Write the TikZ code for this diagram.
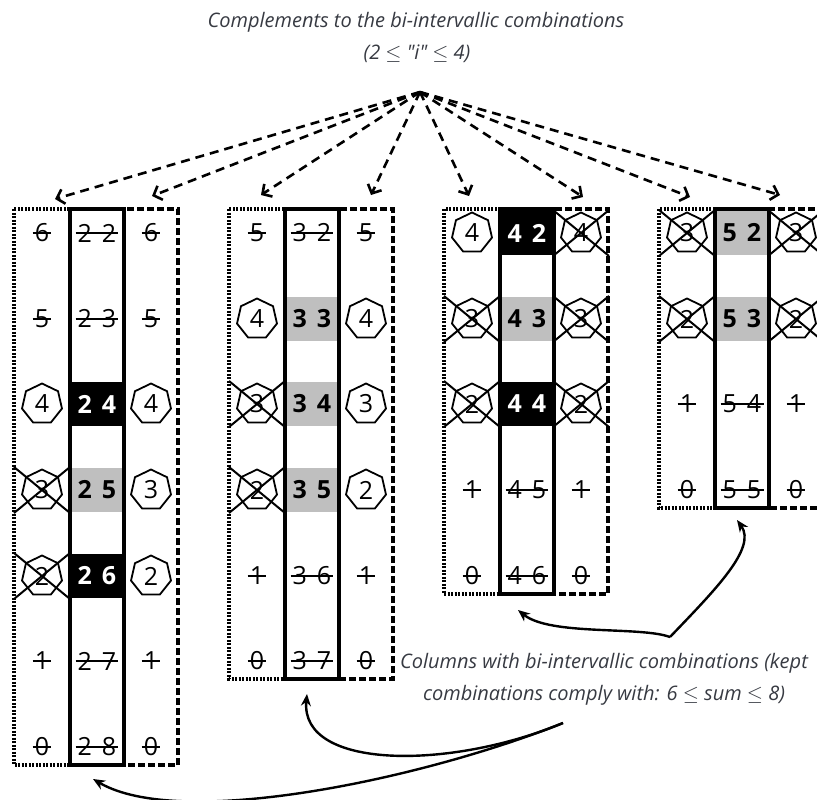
\documentclass[tikz,border=0pt]{standalone}
\usepackage{fontspec}
\setmainfont{Open Sans}
\usetikzlibrary{shapes.geometric,shapes.misc,arrows.meta}
\definecolor{ink}{RGB}{55,58,66}
\definecolor{shade}{RGB}{191,191,191}
\tikzset{
    every node/.style={inner sep=0pt, font=\fontsize{25}{25}\selectfont}
}
\tikzset{gone/.style={inner xsep=2pt, append after command={(\tikzlastnode.west) edge[line width=1.2pt] (\tikzlastnode.east)}}}
\tikzset{hept/.style={regular polygon, regular polygon sides=7, draw, line width=1.8pt, minimum size=41pt}}
\tikzset{cut/.style={cross out, draw, line width=2pt, minimum width=54pt, minimum height=44pt}}
\tikzset{blk/.style={fill=black, text=white, font=\fontsize{25}{25}\selectfont\bfseries, minimum width=54pt, minimum height=44pt}}
\tikzset{gry/.style={blk, fill=shade, text=black}}
\tikzset{note/.style={font=\fontsize{20}{32}\selectfont\itshape, text=ink, align=center}}
\tikzset{guide/.style={dash pattern=on 9pt off 6pt, line width=2.6pt, -{Straight Barb[length=7pt, width=15pt]}}}
\tikzset{link/.style={line width=2.4pt, -{Stealth[length=12pt, width=10pt]}}}
\tikzset{dotcol/.style={line width=3.5pt, dash pattern=on 2pt off 1.5pt}}
\tikzset{solcol/.style={line width=3.5pt}}
\tikzset{dashcol/.style={line width=3.5pt, dash pattern=on 7pt off 3pt}}

\begin{document}
\begin{tikzpicture}[x=1pt, y=-1pt]
  \useasboundingbox (0, 0) rectangle (817, 800);

  \node (head) [note] at (416, 22) {Complements to the bi-intervallic combinations};
  \node (head2) [note] at (417, 54) {(2 $\leq$ \textquotedbl i\textquotedbl{} $\leq$ 4)};
  \node (foot) [note] at (604, 679) {Columns with bi-intervallic combinations (kept\\combinations comply with: 6 $\leq$ sum $\leq$ 8)};

  % first group: 2x
  \node (l22) [gone] at (42, 233) {6};
  \node (c22) [gone] at (97, 233) {2\hspace{0.4em}2};
  \node (r22) [gone] at (151, 233) {6};
  \node (l23) [gone] at (42, 319) {5};
  \node (c23) [gone] at (97, 319) {2\hspace{0.4em}3};
  \node (r23) [gone] at (151, 319) {5};
  \node (l24) [hept] at (42, 404) {4};
  \node (c24) [blk] at (97, 404) {2\hspace{0.4em}4};
  \node (r24) [hept] at (151, 404) {4};
  \node (l25) [hept] at (42, 490) {3};
  \node (xl25) [cut] at (l25) {};
  \node (c25) [gry] at (97, 490) {2\hspace{0.4em}5};
  \node (r25) [hept] at (151, 490) {3};
  \node (l26) [hept] at (42, 576) {2};
  \node (xl26) [cut] at (l26) {};
  \node (c26) [blk] at (97, 576) {2\hspace{0.4em}6};
  \node (r26) [hept] at (151, 576) {2};
  \node (l27) [gone] at (42, 661) {1};
  \node (c27) [gone] at (97, 661) {2\hspace{0.4em}7};
  \node (r27) [gone] at (151, 661) {1};
  \node (l28) [gone] at (42, 747) {0};
  \node (c28) [gone] at (97, 747) {2\hspace{0.4em}8};
  \node (r28) [gone] at (151, 747) {0};

  % second group: 3x
  \node (l32) [gone] at (257, 233) {5};
  \node (c32) [gone] at (312, 233) {3\hspace{0.4em}2};
  \node (r32) [gone] at (366, 233) {5};
  \node (l33) [hept] at (257, 319) {4};
  \node (c33) [gry] at (312, 319) {3\hspace{0.4em}3};
  \node (r33) [hept] at (366, 319) {4};
  \node (l34) [hept] at (257, 404) {3};
  \node (xl34) [cut] at (l34) {};
  \node (c34) [gry] at (312, 404) {3\hspace{0.4em}4};
  \node (r34) [hept] at (366, 404) {3};
  \node (l35) [hept] at (257, 490) {2};
  \node (xl35) [cut] at (l35) {};
  \node (c35) [gry] at (312, 490) {3\hspace{0.4em}5};
  \node (r35) [hept] at (366, 490) {2};
  \node (l36) [gone] at (257, 576) {1};
  \node (c36) [gone] at (312, 576) {3\hspace{0.4em}6};
  \node (r36) [gone] at (366, 576) {1};
  \node (l37) [gone] at (257, 661) {0};
  \node (c37) [gone] at (312, 661) {3\hspace{0.4em}7};
  \node (r37) [gone] at (366, 661) {0};

  % third group: 4x
  \node (l42) [hept] at (472, 233) {4};
  \node (c42) [blk] at (527, 233) {4\hspace{0.4em}2};
  \node (r42) [hept] at (581, 233) {4};
  \node (xr42) [cut] at (r42) {};
  \node (l43) [hept] at (472, 319) {3};
  \node (xl43) [cut] at (l43) {};
  \node (c43) [gry] at (527, 319) {4\hspace{0.4em}3};
  \node (r43) [hept] at (581, 319) {3};
  \node (xr43) [cut] at (r43) {};
  \node (l44) [hept] at (472, 404) {2};
  \node (xl44) [cut] at (l44) {};
  \node (c44) [blk] at (527, 404) {4\hspace{0.4em}4};
  \node (r44) [hept] at (581, 404) {2};
  \node (xr44) [cut] at (r44) {};
  \node (l45) [gone] at (472, 490) {1};
  \node (c45) [gone] at (527, 490) {4\hspace{0.4em}5};
  \node (r45) [gone] at (581, 490) {1};
  \node (l46) [gone] at (472, 576) {0};
  \node (c46) [gone] at (527, 576) {4\hspace{0.4em}6};
  \node (r46) [gone] at (581, 576) {0};

  % fourth group: 5x
  \node (l52) [hept] at (687, 233) {3};
  \node (xl52) [cut] at (l52) {};
  \node (c52) [gry] at (742, 233) {5\hspace{0.4em}2};
  \node (r52) [hept] at (796, 233) {3};
  \node (xr52) [cut] at (r52) {};
  \node (l53) [hept] at (687, 319) {2};
  \node (xl53) [cut] at (l53) {};
  \node (c53) [gry] at (742, 319) {5\hspace{0.4em}3};
  \node (r53) [hept] at (796, 319) {2};
  \node (xr53) [cut] at (r53) {};
  \node (l54) [gone] at (687, 404) {1};
  \node (c54) [gone] at (742, 404) {5\hspace{0.4em}4};
  \node (r54) [gone] at (796, 404) {1};
  \node (l55) [gone] at (687, 490) {0};
  \node (c55) [gone] at (742, 490) {5\hspace{0.4em}5};
  \node (r55) [gone] at (796, 490) {0};

  % column frames
  \draw [dotcol] (14, 209) rectangle (70, 765);
  \draw [dashcol] (124, 209) rectangle (178, 765);
  \draw [solcol] (70, 209) rectangle (124, 765);
  \draw [dotcol] (229, 209) rectangle (285, 679);
  \draw [dashcol] (339, 209) rectangle (393, 679);
  \draw [solcol] (285, 209) rectangle (339, 679);
  \draw [dotcol] (444, 209) rectangle (500, 594);
  \draw [dashcol] (554, 209) rectangle (608, 594);
  \draw [solcol] (500, 209) rectangle (554, 594);
  \draw [dotcol] (659, 209) rectangle (715, 508);
  \draw [dashcol] (769, 209) rectangle (823, 508);
  \draw [solcol] (715, 209) rectangle (769, 508);

  % dashed arrows from the heading
  \coordinate (top) at (420, 92);
  \coordinate (g1l) at (55, 199);
  \coordinate (g1r) at (152, 196);
  \coordinate (g2l) at (261, 195);
  \coordinate (g2r) at (371, 195);
  \coordinate (g3l) at (469, 196);
  \coordinate (g3r) at (583, 197);
  \coordinate (g4l) at (690, 197);
  \coordinate (g4r) at (780, 195);
  \draw (top) edge [guide] (g1l);
  \draw (top) edge [guide] (g1r);
  \draw (top) edge [guide] (g2l);
  \draw (top) edge [guide] (g2r);
  \draw (top) edge [guide] (g3l);
  \draw (top) edge [guide] (g3r);
  \draw (top) edge [guide] (g4l);
  \draw (top) edge [guide] (g4r);

  % curved arrows from the note
  \coordinate (j1) at (670, 637);
  \coordinate (j2) at (563, 723);
  \coordinate (e4) at (737, 520);
  \coordinate (e3) at (518, 610);
  \coordinate (e2) at (307, 694);
  \coordinate (e1) at (93, 779);
  \draw [link] (j1) .. controls (715, 590) and (757, 548) .. (e4);
  \draw [link] (j1) .. controls (640, 626) and (550, 636) .. (e3);
  \draw [link] (j2) .. controls (450, 770) and (300, 770) .. (e2);
  \draw [link] (j2) .. controls (420, 780) and (180, 830) .. (e1);
\end{tikzpicture}
\end{document}
